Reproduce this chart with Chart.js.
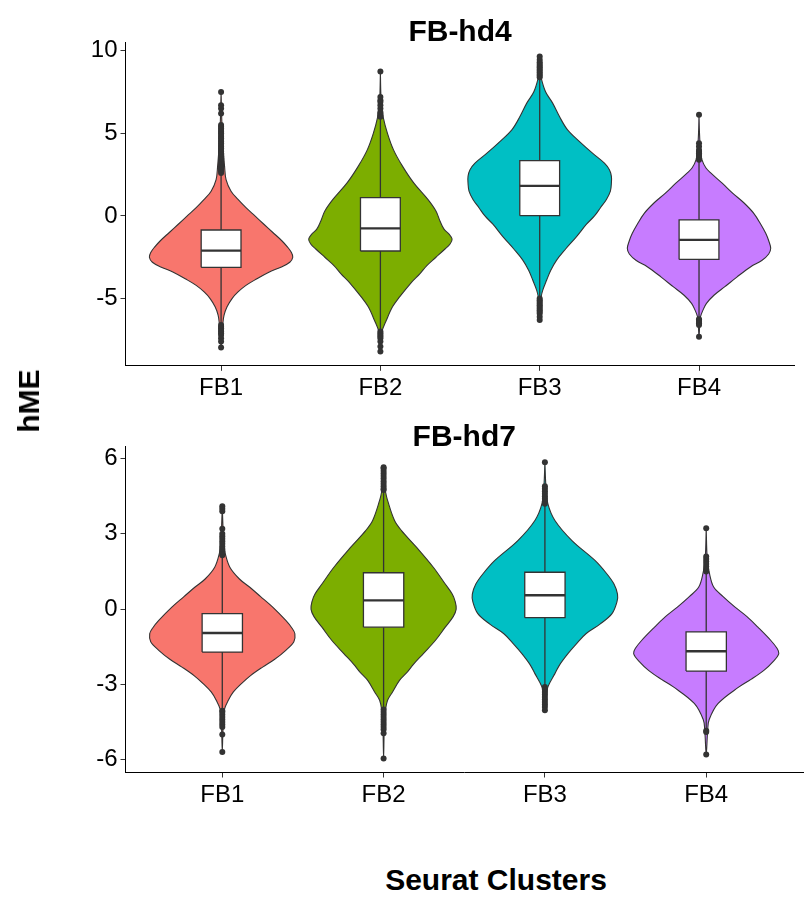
<!DOCTYPE html>
<html><head><meta charset="utf-8">
<script src="https://cdn.jsdelivr.net/npm/chart.js@4.4.0/dist/chart.umd.min.js"></script>
<style>
body{margin:0;background:#fff;width:807px;height:907px;position:relative;overflow:hidden;font-family:"Liberation Sans",Arial,sans-serif}
canvas{position:absolute;left:0}
#c1{top:0}
#c2{top:400px}
.lab{position:absolute;font-weight:bold;font-size:30px;color:#000;white-space:nowrap}
#ylab{left:29px;top:401px;transform:translate(-50%,-50%) rotate(-90deg)}
#xlab{left:496px;top:880px;transform:translate(-50%,-50%)}
</style></head><body>
<canvas id="c1" width="807" height="400"></canvas>
<canvas id="c2" width="807" height="420"></canvas>
<div class="lab" id="ylab">hME</div>
<div class="lab" id="xlab">Seurat Clusters</div>
<script>
// ---------- DATA ----------
const categories = ['FB1', 'FB2', 'FB3', 'FB4'];
const fillColors = ['#F8766D', '#7CAE00', '#00BFC4', '#C77CFF'];

// Panel 1: FB-hd4
const hd4_yTicks = [-5, 0, 5, 10];
const hd4_q1 = [-3.11, -2.12, 0.02, -2.63];
const hd4_median = [-2.10, -0.75, 1.82, -1.45];
const hd4_q3 = [-0.85, 1.11, 3.35, -0.24];
const hd4_whiskerLow = [-6.5, -6.95, -4.95, -6.2];
const hd4_whiskerHigh = [2.55, 5.95, 8.3, 3.33];
const hd4_outliers = [
  [2.6,2.7,2.8,2.9,3.0,3.1,3.2,3.3,3.4,3.5,3.6,3.7,3.8,3.9,4.0,4.1,4.2,4.3,4.4,4.5,4.6,4.7,4.8,4.9,5.0,5.1,5.2,5.3,5.4,5.5,6.2,6.5,6.7,7.5,
   -6.6,-6.7,-6.8,-6.9,-7.0,-7.1,-7.2,-7.4,-7.6,-7.96],
  [6.0,6.1,6.2,6.3,6.5,6.7,6.9,7.0,7.2,8.75, -7.0,-7.1,-7.2,-7.3,-7.4,-7.6,-7.9,-8.2],
  [8.4,8.5,8.6,8.7,8.8,8.9,9.0,9.1,9.2,9.3,9.45,9.65, -5.0,-5.1,-5.2,-5.3,-5.4,-5.5,-5.6,-5.7,-5.8,-5.9,-6.1,-6.3],
  [3.4,3.5,3.6,3.7,3.8,3.9,4.0,4.2,4.4,6.12, -6.25,-6.3,-6.4,-6.5,-6.6,-7.31]
];
const hd4_violinY = [
  [7.5,6.0,5.0,4.0,3.0,2.2,1.5,1.0,0.5,0.0,-0.5,-1.0,-1.5,-1.9,-2.2,-2.5,-2.8,-3.1,-3.4,-3.8,-4.2,-4.6,-5.0,-5.5,-6.0,-6.5,-7.0,-7.96],
  [8.75,7.5,6.8,6.0,5.0,4.0,3.0,2.0,1.0,0.3,-0.3,-0.8,-1.1,-1.4,-1.7,-2.0,-2.5,-3.0,-3.5,-4.0,-4.9,-5.5,-6.3,-7.0,-7.6,-8.2],
  [9.65,8.8,8.35,7.5,6.83,6.0,5.21,4.5,3.8,3.2,2.8,2.4,2.0,1.5,1.0,0.5,0.0,-0.5,-1.25,-2.0,-2.67,-3.3,-3.88,-4.5,-4.89,-5.5,-6.3],
  [6.12,5.0,4.0,3.39,2.9,2.59,2.0,1.37,0.8,0.16,-0.5,-1.05,-1.5,-1.96,-2.3,-2.7,-3.07,-3.7,-4.28,-4.8,-5.29,-5.7,-6.1,-6.6,-7.31]
];
const hd4_violinDensity = [
  [0,0.6,1.2,2.2,3.5,5,10,17,25,34,43,52,61,67,70.5,72,69,60,48,36,25,17,11,6,3,1.8,1,0],
  [0,0.4,1,2.7,7,13,22,33,47,55,59,63,68,71,69,64,55,46,39,31,19,12,6,1.5,0.6,0],
  [0,0.5,1.5,6,13,20,28,40,53,65,70,72,72,71,67,61,55,47,37,26,17,11,7,3,1.5,0.6,0],
  [0,0.5,1.5,3,7,12,23,34,45,55,62,67,70,72,70,63,52,38,26,15,7.5,4,1.5,0.7,0]
];

// Panel 2: FB-hd7
const hd7_yTicks = [-6, -3, 0, 3, 6];
const hd7_q1 = [-1.71, -0.72, -0.34, -2.47];
const hd7_median = [-0.95, 0.35, 0.55, -1.68];
const hd7_q3 = [-0.18, 1.45, 1.47, -0.91];
const hd7_whiskerLow = [-4.0, -3.95, -3.05, -4.8];
const hd7_whiskerHigh = [2.1, 4.7, 4.15, 1.43];
const hd7_outliers = [
  [2.15,2.2,2.3,2.4,2.5,2.6,2.7,2.8,2.9,3.0,3.2,3.9,4.0,4.1, -4.05,-4.1,-4.2,-4.3,-4.4,-4.5,-4.6,-4.7,-5.0,-5.69],
  [4.75,4.8,4.9,5.0,5.1,5.2,5.3,5.4,5.5,5.6,5.65, -4.0,-4.1,-4.2,-4.3,-4.4,-4.5,-4.6,-4.7,-4.8,-4.95,-5.95],
  [4.2,4.3,4.4,4.5,4.6,4.7,4.8,4.9,5.85, -3.1,-3.2,-3.3,-3.4,-3.5,-3.6,-3.7,-3.8,-3.9,-4.03],
  [1.5,1.6,1.7,1.8,1.9,2.0,2.1,3.22, -4.85,-4.9,-5.79]
];
const hd7_violinY = [
  [4.1,3.5,3.0,2.5,2.2,1.67,1.2,0.88,0.5,0.08,-0.45,-0.75,-0.98,-1.3,-1.64,-2.0,-2.31,-2.65,-2.97,-3.3,-3.63,-4.0,-4.5,-5.0,-5.69],
  [5.65,5.0,4.66,4.33,3.53,3.13,2.47,1.67,1.0,0.6,0.3,0.0,-0.3,-0.72,-1.25,-1.77,-2.2,-2.5,-2.84,-3.3,-3.63,-4.0,-4.5,-5.0,-5.95],
  [5.85,4.9,4.19,3.53,2.73,1.94,1.4,1.0,0.6,0.3,-0.18,-0.6,-0.98,-1.4,-1.77,-2.2,-2.57,-3.1,-3.5,-4.03],
  [3.22,2.0,1.47,0.88,0.5,0.08,-0.3,-0.72,-1.25,-1.55,-1.77,-2.1,-2.44,-2.8,-3.1,-3.76,-4.4,-4.8,-5.79]
];
const hd7_violinDensity = [
  [0,0.5,1,2,3,7.5,17,27,38,50,63,69,72,71,63,52,40,28,19,11,6,2,1,0.5,0],
  [0,0.8,2,4,11,18,33,50,62,69,72,73,70,62,52,40,30,24,16,9,4,2,1,0.5,0],
  [0,1,3,10,27,50,62,69,72.5,72,67,55,41,31,23,15,10,3,1.5,0],
  [0,1,3,7.5,17,29,41,52,65,71,73,67,58,45,33,12,3,1.5,0]
];

// ---------- RENDER ----------
Chart.defaults.font.family = '"Liberation Sans", Arial, sans-serif';
Chart.defaults.color = '#000';
const VIOLIN_HALF = 0.45, BOX_HALF = 0.125, OUTLINE = '#333333';

function buildDatasets(p) {
  const ds = [];
  categories.forEach((cat, i) => {
    const c = i + 1;
    const ys = p.violinY[i], dens = p.violinDensity[i];
    const mx = Math.max(...dens);
    const pts = [];
    for (let k = 0; k < ys.length; k++) pts.push({x: c + VIOLIN_HALF * dens[k] / mx, y: ys[k]});
    for (let k = ys.length - 2; k >= 0; k--) pts.push({x: c - VIOLIN_HALF * dens[k] / mx, y: ys[k]});
    ds.push({data: pts, order: 10, fill: 'shape', backgroundColor: fillColors[i], borderColor: OUTLINE,
             borderWidth: 1.1, pointRadius: 0, tension: 0.35});
    ds.push({data: [{x: c, y: p.whiskerLow[i]}, {x: c, y: p.whiskerHigh[i]}], order: 8, fill: false,
             borderColor: OUTLINE, borderWidth: 1.3, pointRadius: 0});
    ds.push({data: [{x: c - BOX_HALF, y: p.q1[i]}, {x: c + BOX_HALF, y: p.q1[i]}, {x: c + BOX_HALF, y: p.q3[i]},
                    {x: c - BOX_HALF, y: p.q3[i]}, {x: c - BOX_HALF, y: p.q1[i]}],
             order: 6, fill: 'shape', backgroundColor: '#ffffff', borderColor: OUTLINE, borderWidth: 1.3, pointRadius: 0});
    ds.push({data: [{x: c - BOX_HALF, y: p.median[i]}, {x: c + BOX_HALF, y: p.median[i]}], order: 4, fill: false,
             borderColor: OUTLINE, borderWidth: 2.4, pointRadius: 0});
    ds.push({data: p.outliers[i].map(v => ({x: c, y: v})), order: 2, showLine: false, fill: false,
             pointRadius: 3, pointBackgroundColor: OUTLINE, pointBorderWidth: 0, borderColor: OUTLINE});
  });
  return ds;
}

function makePanel(id, p) {
  new Chart(document.getElementById(id), {
    type: 'line',
    data: {datasets: buildDatasets(p)},
    options: {
      responsive: false, animation: false, devicePixelRatio: 1, events: [],
      layout: {padding: {left: 0, right: p.padRight, top: 0, bottom: 0}},
      plugins: {
        legend: {display: false}, tooltip: {enabled: false},
        title: {display: true, text: p.title, fullSize: false, color: '#000',
                font: {size: 30, weight: 'bold'}, padding: {top: p.titleTop, bottom: p.titleBottom}}
      },
      scales: {
        x: {type: 'linear', min: 0.4, max: 4.6,
            afterBuildTicks: s => { s.ticks = categories.map((_, i) => ({value: i + 1})); },
            afterFit: s => { s.height = p.xAxisHeight; },
            ticks: {callback: v => categories[Math.round(v) - 1], font: {size: 24}, color: '#000',
                    padding: 3, maxRotation: 0, autoSkip: false},
            grid: {display: true, drawOnChartArea: false, drawTicks: true, tickLength: 5, tickColor: '#333', tickWidth: 1},
            border: {display: true, color: '#000', width: 1}},
        y: {type: 'linear', min: p.yMin, max: p.yMax,
            afterBuildTicks: s => { s.ticks = p.yTicks.map(v => ({value: v})); },
            afterFit: s => { s.width = 125.5; },
            ticks: {callback: v => String(v), font: {size: 24}, color: '#000', padding: 3},
            grid: {display: true, drawOnChartArea: false, drawTicks: true, tickLength: 5, tickColor: '#333', tickWidth: 1},
            border: {display: true, color: '#000', width: 1}}
      }
    }
  });
}

makePanel('c1', {title: 'FB-hd4', yMin: -9.07, yMax: 10.5, yTicks: hd4_yTicks, q1: hd4_q1, median: hd4_median, q3: hd4_q3,
  whiskerLow: hd4_whiskerLow, whiskerHigh: hd4_whiskerHigh, outliers: hd4_outliers,
  violinY: hd4_violinY, violinDensity: hd4_violinDensity,
  padRight: 12.4, titleTop: 14.5, titleBottom: -8, xAxisHeight: 34.2});
makePanel('c2', {title: 'FB-hd7', yMin: -6.51, yMax: 6.5, yTicks: hd7_yTicks, q1: hd7_q1, median: hd7_median, q3: hd7_q3,
  whiskerLow: hd7_whiskerLow, whiskerHigh: hd7_whiskerHigh, outliers: hd7_outliers,
  violinY: hd7_violinY, violinDensity: hd7_violinDensity,
  padRight: 1, titleTop: 19.5, titleBottom: -9.5, xAxisHeight: 47.5});
</script>
</body></html>
